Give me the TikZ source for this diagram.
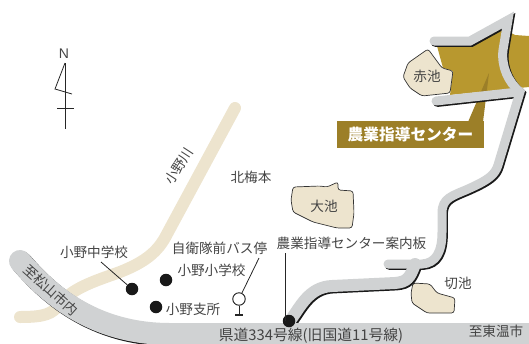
\documentclass[tikz,border=0pt]{standalone}
\usepackage{fontspec}
\setmainfont{Noto Sans CJK JP}
\newfontfamily\latinsans{Liberation Sans}
\definecolor{roadgray}{HTML}{D0D2D3}
\definecolor{pondcol}{HTML}{EDE4CE}
\definecolor{goldcol}{HTML}{B8982F}
\definecolor{golddark}{HTML}{9C7F28}
\definecolor{textcol}{HTML}{444444}
\tikzset{
  lbl/.style={text=textcol,inner sep=0pt,font=\fontsize{13.6}{15}\selectfont},
  pond/.style={fill=pondcol,draw=black!80,line width=0.7pt,rounded corners=2.5pt},
  spot/.style={circle,fill=black!90,inner sep=0pt,minimum size=12.5pt},
  leader/.style={draw=black!85,line width=0.8pt},
  river/.style={draw=pondcol,line width=12pt,line cap=round,line join=round},
  roadfill/.style={draw=roadgray,line cap=round,line join=miter},
  roadedge/.style={draw=black!90,line cap=round,line join=miter,shift={(1.4pt,-1.4pt)}}
}
\begin{document}
\begin{tikzpicture}[x=1pt,y=-1pt]
\useasboundingbox (0,0) rectangle (529,343);
\clip (0,0) rectangle (529,343);
% river
\draw[river] (235,108) -- (167,234) .. controls (158,252) and (145,262) .. (120,272)
  .. controls (95,281) and (72,288) .. (60,304) .. controls (52,314) and (45,317) .. (20,317);
% gold site
\fill[goldcol] (437,46) -- (472,46) -- (502,28) -- (515,35) -- (529,36) -- (529,87) -- (450,95) -- (453,71) -- (443,68) -- cycle;
\fill[golddark] (468,122) -- (489,73) -- (483,122) -- cycle;
% ponds
\path[pond] (428,49) -- (442,68) -- (453,71) -- (450,93) -- (422,96) -- (410,88) -- (403,77) -- (408,63) -- cycle;
\path[pond] (293,187) -- (320,186) -- (327,187) -- (338,182) -- (338,190) -- (353,191) -- (354,213) -- (352,228) -- (337,228) -- (313,222) -- (293,212) -- (291,200) -- cycle;
\path[pond] (413,283) -- (430,284) -- (437,293) -- (455,298) -- (454,313) -- (427,313) -- (412,303) -- (411,293) -- cycle;
% farm roads: shadow
\draw[roadedge,line width=12pt] (289,322) .. controls (300,308) and (308,287) .. (332,286) -- (395,283) .. controls (407,282) and (410,278) .. (415,264);
\draw[roadedge,line width=9pt] (436,101) -- (518,92);
\draw[roadedge,line width=9pt] (388,264) -- (422,264) .. controls (436,263) and (442,252) .. (442,232) -- (442,213) .. controls (442,198) and (452,196) .. (468,189) .. controls (488,180) and (495,175) .. (498,165) -- (520,92) .. controls (508,82) and (501,66) .. (503,50) -- (508,20) -- (470,41) -- (434,41);
% farm roads: fill
\draw[roadfill,line width=12pt] (289,322) .. controls (300,308) and (308,287) .. (332,286) -- (395,283) .. controls (407,282) and (410,278) .. (415,264);
\draw[roadfill,line width=9pt] (436,101) -- (518,92);
\draw[roadfill,line width=9pt] (388,264) -- (422,264) .. controls (436,263) and (442,252) .. (442,232) -- (442,213) .. controls (442,198) and (452,196) .. (468,189) .. controls (488,180) and (495,175) .. (498,165) -- (520,92) .. controls (508,82) and (501,66) .. (503,50) -- (508,20) -- (470,41) -- (434,41);
% main road
\draw[roadedge,line width=22pt,line join=round] (20,261) .. controls (45,290) and (90,334) .. (170,334) -- (540,334);
\draw[roadfill,line width=22pt,line join=round] (20,261) .. controls (45,290) and (90,334) .. (170,334) -- (540,334);
% north mark
\node[lbl,font=\latinsans\fontsize{14}{15}\selectfont] (north) at (64,54) {N};
\coordinate (ntop) at (65,63);
\coordinate (nfoot) at (65,129);
\draw[leader] (ntop) -- (nfoot);
\draw[leader] (ntop) -- (55,89) -- (72,94);
\draw[leader] (57,108) -- (74,108);
% spots
\node[spot] (chu) at (132,289) {};
\node[spot] (sho) at (166,280) {};
\node[spot] (shisho) at (156,307) {};
\node[spot] (board) at (289,321) {};
\node[circle,draw=black!90,fill=white,line width=0.9pt,inner sep=0pt,minimum size=12.5pt] (bus) at (239,299) {};
\coordinate (busfoot) at (239,315);
\draw[leader] (bus) -- (busfoot);
\draw[leader,line width=1.2pt] (235,315) -- (243,315);
% labels
\node[lbl] (akaike) at (427,76) {赤池};
\node[inner sep=0pt,fill=golddark,minimum width=147pt,minimum height=27pt,text=white,font=\fontsize{15.7}{17}\bfseries\selectfont] (center) at (410.5,134.5) {農業指導センター};
\node[lbl] (oike) at (324,206) {大池};
\node[lbl] (annai) at (351.5,243) {農業指導センター案内板};
\node[lbl] (kireike) at (458,283) {切池};
\node[lbl] (toon) at (496,331) {至東温市};
\node[lbl,font=\fontsize{14.8}{16}\selectfont] (kendo) at (311,336) {県道334号線(旧国道11号線)};
\node[lbl] (kita) at (251,177) {北梅本};
\node[lbl] (chulbl) at (94,252) {小野中学校};
\node[lbl] (buslbl) at (219.5,248) {自衛隊前バス停};
\node[lbl] (sholbl) at (211.5,270) {小野小学校};
\node[lbl] (shilbl) at (193,309) {小野支所};
\node[lbl,rotate=-42] (matsu) at (51,290) {至松山市内};
\node[lbl,rotate=57] (ogawa) at (179,166) {小野川};
% leaders
\coordinate (chuend) at (101,262);
\coordinate (busend) at (259,258);
\coordinate (boardend) at (285,253);
\draw[leader] (chuend) -- (chu);
\draw[leader] (busend) -- (bus);
\draw[leader] (boardend) -- (285,321);
\end{tikzpicture}
\end{document}
